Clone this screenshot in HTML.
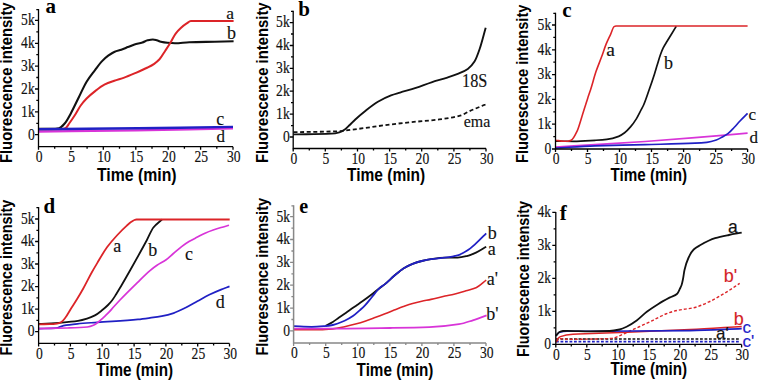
<!DOCTYPE html>
<html><head><meta charset="utf-8"><style>
html,body{margin:0;padding:0;background:#fff;width:758px;height:380px;overflow:hidden}
svg{display:block}
</style></head><body>
<svg width="758" height="380" viewBox="0 0 758 380">
<rect width="758" height="380" fill="#fff"/>
<path d="M38.50 128.80C43.00 128.80 47.50 128.80 52.00 128.80C54.33 128.80 56.67 128.57 59.00 128.20C60.97 127.89 62.93 125.41 64.90 123.20C66.87 120.99 68.83 116.96 70.80 113.40C73.43 108.63 76.07 102.78 78.70 97.50C81.33 92.22 83.97 86.01 86.60 81.70C89.40 77.12 92.20 73.83 95.00 70.10C97.20 67.17 99.40 63.92 101.60 61.60C103.80 59.28 106.00 57.30 108.20 55.70C110.37 54.12 112.53 52.58 114.70 51.70C116.90 50.81 119.10 50.45 121.30 49.70C123.50 48.95 125.70 47.97 127.90 47.10C130.10 46.23 132.30 45.18 134.50 44.50C137.13 43.68 139.77 43.35 142.40 42.50C144.13 41.94 145.87 40.69 147.60 40.30C149.37 39.91 151.13 39.50 152.90 39.50C154.20 39.50 155.50 39.96 156.80 40.30C158.13 40.65 159.47 41.50 160.80 41.80C163.00 42.29 165.20 42.63 167.40 42.80C169.93 43.00 172.47 43.20 175.00 43.20C179.77 43.20 184.53 42.35 189.30 42.20C197.83 41.92 206.37 41.87 214.90 41.70C221.13 41.57 227.37 41.43 233.60 41.30" fill="none" stroke="#111" stroke-width="2.1" stroke-linejoin="round"/>
<path d="M38.50 129.50C46.00 129.43 53.50 129.46 61.00 129.30C62.50 129.27 64.00 128.83 65.50 128.20C66.83 127.64 68.17 124.82 69.50 123.00C71.27 120.58 73.03 118.04 74.80 115.30C76.77 112.26 78.73 108.22 80.70 105.50C82.67 102.78 84.63 100.49 86.60 98.50C89.23 95.83 91.87 93.65 94.50 91.60C97.80 89.03 101.10 86.36 104.40 84.70C107.70 83.04 111.00 81.97 114.30 80.80C117.60 79.63 120.90 78.79 124.20 77.60C127.63 76.36 131.07 74.87 134.50 73.40C138.87 71.53 143.23 69.71 147.60 67.50C149.80 66.39 152.00 65.30 154.20 63.80C155.97 62.60 157.73 61.20 159.50 59.30C161.47 57.18 163.43 53.51 165.40 50.50C167.17 47.80 168.93 45.12 170.70 42.20C172.30 39.55 173.90 35.96 175.50 33.80C177.27 31.41 179.03 29.61 180.80 28.00C182.77 26.20 184.73 24.65 186.70 23.40C188.10 22.51 189.50 21.10 190.90 21.10C205.13 21.10 219.37 21.10 233.60 21.10" fill="none" stroke="#dc2428" stroke-width="2.0" stroke-linejoin="round"/>
<path d="M38.50 131.60C71.00 131.20 103.50 130.89 136.00 130.40C168.33 129.91 200.67 129.13 233.00 128.50" fill="none" stroke="#d834d8" stroke-width="2.2" stroke-linejoin="round"/>
<path d="M38.50 129.20C71.67 128.90 104.83 128.67 138.00 128.30C169.67 127.94 201.33 127.37 233.00 126.90" fill="none" stroke="#2020c4" stroke-width="2.4" stroke-linejoin="round"/>
<text x="226.3" y="19.0" font-family='"Liberation Serif", serif' font-size="17.5" fill="#111" stroke="#111" stroke-width="0.15">a</text>
<text x="227.1" y="38.5" font-family='"Liberation Serif", serif' font-size="18" fill="#111" stroke="#111" stroke-width="0.15">b</text>
<text x="216.2" y="124.7" font-family='"Liberation Serif", serif' font-size="18" fill="#111" stroke="#111" stroke-width="0.15">c</text>
<text x="216.4" y="141.6" font-family='"Liberation Serif", serif' font-size="17" fill="#111" stroke="#111" stroke-width="0.15">d</text>
<path d="M293.50 132.20C308.77 131.87 324.03 131.85 339.30 131.20C343.27 131.03 347.23 130.29 351.20 129.80C364.80 128.11 378.40 125.95 392.00 124.30C397.90 123.58 403.80 122.92 409.70 122.30C419.57 121.26 429.43 120.68 439.30 119.40C446.53 118.46 453.77 117.49 461.00 115.40C463.63 114.64 466.27 112.71 468.90 111.50C473.50 109.38 478.10 107.47 482.70 105.60C483.63 105.22 484.57 104.87 485.50 104.50" fill="none" stroke="#111" stroke-width="1.8" stroke-linejoin="round" stroke-dasharray="4 2.6"/>
<path d="M293.50 134.40C306.13 134.13 318.77 134.17 331.40 133.60C334.03 133.48 336.67 132.98 339.30 132.30C341.13 131.83 342.97 130.71 344.80 129.50C346.53 128.36 348.27 126.35 350.00 124.70C351.77 123.02 353.53 121.12 355.30 119.50C358.83 116.26 362.37 113.27 365.90 110.50C369.90 107.37 373.90 104.14 377.90 101.80C382.27 99.24 386.63 97.04 391.00 95.40C394.00 94.28 397.00 93.51 400.00 92.60C405.27 90.99 410.53 89.61 415.80 87.90C421.03 86.20 426.27 84.00 431.50 82.30C436.77 80.59 442.03 79.31 447.30 77.60C451.00 76.40 454.70 75.25 458.40 73.70C461.53 72.39 464.67 71.13 467.80 68.90C470.03 67.31 472.27 64.95 474.50 61.50C476.27 58.77 478.03 53.59 479.80 48.50C481.77 42.83 483.73 34.63 485.70 27.70" fill="none" stroke="#111" stroke-width="1.9" stroke-linejoin="round"/>
<text x="462.0" y="86.9" font-family='"Liberation Serif", serif' font-size="18" fill="#111" stroke="#111" stroke-width="0.15" textLength="25.3" lengthAdjust="spacingAndGlyphs">18S</text>
<text x="463.8" y="127.4" font-family='"Liberation Serif", serif' font-size="17.5" fill="#111" stroke="#111" stroke-width="0.15" textLength="26.5" lengthAdjust="spacingAndGlyphs">ema</text>
<path d="M555.50 147.00C568.67 146.23 581.83 145.50 595.00 144.70C611.67 143.69 628.33 142.67 645.00 141.50C661.67 140.33 678.33 138.95 695.00 137.60C712.53 136.19 730.07 134.67 747.60 133.20" fill="none" stroke="#d834d8" stroke-width="1.7" stroke-linejoin="round"/>
<path d="M555.50 148.00C568.67 147.30 581.83 146.37 595.00 145.90C611.67 145.31 628.33 145.05 645.00 144.60C661.67 144.15 678.33 143.95 695.00 143.20C698.93 143.02 702.87 142.76 706.80 142.30C709.97 141.93 713.13 141.06 716.30 140.00C718.30 139.33 720.30 138.10 722.30 137.00C724.27 135.92 726.23 134.89 728.20 133.40C730.17 131.91 732.13 129.56 734.10 127.50C736.07 125.44 738.03 123.07 740.00 121.00C742.53 118.34 745.07 115.93 747.60 113.40" fill="none" stroke="#2020c4" stroke-width="1.7" stroke-linejoin="round"/>
<path d="M555.50 141.20C561.57 141.23 567.63 141.30 573.70 141.30C580.80 141.30 587.90 140.72 595.00 140.30C598.93 140.07 602.87 139.86 606.80 139.40C610.77 138.94 614.73 137.88 618.70 136.40C620.67 135.66 622.63 134.29 624.60 132.80C626.57 131.31 628.53 129.18 630.50 126.90C632.50 124.58 634.50 121.82 636.50 118.60C638.07 116.08 639.63 112.72 641.20 109.70C642.00 108.16 642.80 106.79 643.60 105.00C645.37 101.05 647.13 95.53 648.90 90.50C650.77 85.19 652.63 79.76 654.50 73.90C655.40 71.07 656.30 67.92 657.20 65.00C658.30 61.44 659.40 57.53 660.50 54.50C661.40 52.02 662.30 49.72 663.20 47.90C664.50 45.27 665.80 43.47 667.10 41.30C668.43 39.07 669.77 36.89 671.10 34.70C672.83 31.85 674.57 29.03 676.30 26.20" fill="none" stroke="#111" stroke-width="1.7" stroke-linejoin="round"/>
<path d="M555.50 140.20C558.30 140.57 561.10 141.30 563.90 141.30C565.27 141.30 566.63 141.26 568.00 141.20C569.07 141.15 570.13 140.78 571.20 140.30C573.17 139.42 575.13 135.19 577.10 131.10C578.67 127.84 580.23 121.74 581.80 116.90C583.80 110.72 585.80 103.95 587.80 97.90C588.70 95.18 589.60 92.79 590.50 90.00C592.33 84.32 594.17 77.02 596.00 71.60C597.87 66.09 599.73 61.88 601.60 56.80C603.13 52.62 604.67 47.68 606.20 43.90C607.73 40.12 609.27 37.16 610.80 33.80C611.90 31.39 613.00 27.17 614.10 26.60C614.73 26.27 615.37 26.00 616.00 26.00C659.87 26.00 703.73 26.00 747.60 26.00" fill="none" stroke="#dc2428" stroke-width="1.6" stroke-linejoin="round"/>
<text x="606.3" y="55.8" font-family='"Liberation Serif", serif' font-size="19.5" fill="#111" stroke="#111" stroke-width="0.15">a</text>
<text x="663.9" y="69.4" font-family='"Liberation Serif", serif' font-size="18" fill="#111" stroke="#111" stroke-width="0.15">b</text>
<text x="748.5" y="120.4" font-family='"Liberation Serif", serif' font-size="17" fill="#111" stroke="#111" stroke-width="0.15">c</text>
<text x="749.5" y="143.2" font-family='"Liberation Serif", serif' font-size="17" fill="#111" stroke="#111" stroke-width="0.15">d</text>
<path d="M38.50 328.60C44.27 328.47 50.03 328.48 55.80 328.20C58.40 328.07 61.00 326.11 63.60 325.60C68.20 324.70 72.80 324.25 77.40 323.80C84.00 323.16 90.60 322.79 97.20 322.30C110.80 321.30 124.40 320.70 138.00 319.40C142.00 319.02 146.00 318.45 150.00 317.90C153.93 317.36 157.87 316.85 161.80 316.10C165.77 315.35 169.73 314.38 173.70 313.10C177.63 311.83 181.57 309.75 185.50 307.80C189.43 305.85 193.37 303.46 197.30 301.30C201.27 299.12 205.23 296.73 209.20 294.80C213.13 292.88 217.07 291.19 221.00 289.60C223.83 288.45 226.67 287.47 229.50 286.40" fill="none" stroke="#2020c4" stroke-width="1.7" stroke-linejoin="round"/>
<path d="M38.50 328.60C48.20 328.40 57.90 328.29 67.60 328.00C74.17 327.80 80.73 327.64 87.30 327.00C89.53 326.78 91.77 325.95 94.00 325.00C95.67 324.29 97.33 322.82 99.00 321.50C100.37 320.42 101.73 319.06 103.10 317.80C104.73 316.30 106.37 314.86 108.00 313.20C110.00 311.17 112.00 308.70 114.00 306.50C116.00 304.30 118.00 302.09 120.00 300.00C125.80 293.93 131.60 288.25 137.40 282.60C141.60 278.51 145.80 274.11 150.00 270.60C152.33 268.65 154.67 266.87 157.00 265.30C159.93 263.32 162.87 262.08 165.80 260.00C168.33 258.20 170.87 255.65 173.40 253.50C176.13 251.18 178.87 248.67 181.60 246.60C184.07 244.73 186.53 242.97 189.00 241.50C191.80 239.83 194.60 238.55 197.40 237.10C199.93 235.79 202.47 234.33 205.00 233.20C207.73 231.99 210.47 230.96 213.20 230.00C215.80 229.09 218.40 228.27 221.00 227.50C223.67 226.71 226.33 226.03 229.00 225.30" fill="none" stroke="#d834d8" stroke-width="1.7" stroke-linejoin="round"/>
<path d="M38.50 324.00C46.23 323.53 53.97 323.20 61.70 322.60C67.13 322.18 72.57 321.73 78.00 320.90C81.00 320.44 84.00 319.63 87.00 318.70C89.63 317.88 92.27 316.80 94.90 315.40C97.27 314.14 99.63 312.18 102.00 310.30C104.00 308.71 106.00 307.00 108.00 305.00C109.33 303.67 110.67 302.21 112.00 300.50C113.33 298.79 114.67 296.60 116.00 294.50C117.67 291.88 119.33 289.03 121.00 286.20C124.10 280.94 127.20 275.49 130.30 270.00C135.83 260.20 141.37 250.36 146.90 240.00C149.07 235.94 151.23 230.26 153.40 227.50C156.27 223.85 159.13 222.17 162.00 219.50" fill="none" stroke="#111" stroke-width="1.8" stroke-linejoin="round"/>
<path d="M38.50 324.30C42.27 324.27 46.03 324.26 49.80 324.20C52.20 324.16 54.60 323.94 57.00 323.60C58.33 323.41 59.67 322.96 61.00 322.30C62.43 321.59 63.87 319.60 65.30 317.80C67.27 315.33 69.23 311.43 71.20 308.30C73.17 305.17 75.13 302.23 77.10 299.00C79.20 295.55 81.30 291.96 83.40 288.20C86.27 283.07 89.13 277.12 92.00 272.00C93.73 268.90 95.47 265.99 97.20 263.10C100.47 257.66 103.73 251.78 107.00 247.30C110.30 242.78 113.60 239.09 116.90 235.50C120.20 231.91 123.50 228.53 126.80 225.60C128.43 224.15 130.07 222.68 131.70 221.60C132.63 220.98 133.57 220.32 134.50 220.00C135.17 219.77 135.83 219.50 136.50 219.50C167.57 219.50 198.63 219.50 229.70 219.50" fill="none" stroke="#dc2428" stroke-width="1.8" stroke-linejoin="round"/>
<text x="113.3" y="252.3" font-family='"Liberation Serif", serif' font-size="18" fill="#111" stroke="#111" stroke-width="0.15">a</text>
<text x="148.2" y="256.2" font-family='"Liberation Serif", serif' font-size="18" fill="#111" stroke="#111" stroke-width="0.15">b</text>
<text x="185.0" y="259.6" font-family='"Liberation Serif", serif' font-size="18" fill="#111" stroke="#111" stroke-width="0.15">c</text>
<text x="215.7" y="308.4" font-family='"Liberation Serif", serif' font-size="18" fill="#111" stroke="#111" stroke-width="0.15">d</text>
<path d="M294.00 329.60C302.67 329.60 311.33 329.60 320.00 329.60C324.27 329.60 328.53 329.26 332.80 328.90C336.73 328.56 340.67 327.53 344.60 326.70C348.57 325.86 352.53 324.88 356.50 323.80C359.33 323.03 362.17 322.14 365.00 321.20C368.33 320.10 371.67 318.83 375.00 317.60C378.33 316.37 381.67 315.10 385.00 313.80C388.07 312.60 391.13 311.32 394.20 310.10C397.27 308.88 400.33 307.61 403.40 306.50C406.47 305.39 409.53 304.26 412.60 303.40C415.67 302.54 418.73 301.86 421.80 301.20C424.87 300.54 427.93 300.06 431.00 299.40C435.67 298.40 440.33 297.02 445.00 296.00C448.00 295.35 451.00 294.90 454.00 294.20C458.00 293.27 462.00 291.97 466.00 290.80C469.33 289.83 472.67 289.22 476.00 287.80C479.40 286.35 482.80 282.73 486.20 280.20" fill="none" stroke="#dc2428" stroke-width="1.6" stroke-linejoin="round"/>
<path d="M294.00 328.60C306.47 328.60 318.93 328.60 331.40 328.60C350.93 328.60 370.47 328.27 390.00 328.00C403.13 327.82 416.27 327.66 429.40 327.20C439.27 326.86 449.13 325.76 459.00 324.20C463.60 323.47 468.20 321.75 472.80 320.30C477.40 318.85 482.00 317.03 486.60 315.40" fill="none" stroke="#d834d8" stroke-width="1.8" stroke-linejoin="round"/>
<path d="M325.70 325.80C328.07 324.53 330.43 323.45 332.80 322.00C334.77 320.79 336.73 319.18 338.70 317.80C340.67 316.42 342.63 315.08 344.60 313.70C346.57 312.32 348.53 310.87 350.50 309.50C352.50 308.11 354.50 306.78 356.50 305.40C358.47 304.04 360.43 302.71 362.40 301.30C365.47 299.11 368.53 296.85 371.60 294.50C374.23 292.48 376.87 290.23 379.50 288.20C381.33 286.79 383.17 285.58 385.00 284.10C388.07 281.62 391.13 278.41 394.20 275.80C397.27 273.19 400.33 270.29 403.40 268.40C406.47 266.51 409.53 264.96 412.60 263.80C415.67 262.64 418.73 261.73 421.80 261.00C424.87 260.27 427.93 259.63 431.00 259.20C435.67 258.54 440.33 257.77 445.00 257.70C449.20 257.64 453.40 257.67 457.60 257.60C460.67 257.55 463.73 256.80 466.80 256.10C469.87 255.40 472.93 254.00 476.00 252.60C479.40 251.04 482.80 248.67 486.20 246.70" fill="none" stroke="#111" stroke-width="1.8" stroke-linejoin="round"/>
<path d="M294.00 326.20C299.90 326.40 305.80 326.80 311.70 326.80C315.97 326.80 320.23 326.44 324.50 326.10C327.27 325.88 330.03 325.52 332.80 325.00C336.73 324.26 340.67 322.54 344.60 320.80C347.37 319.57 350.13 317.99 352.90 316.10C355.27 314.49 357.63 312.21 360.00 310.10C361.67 308.61 363.33 307.15 365.00 305.40C367.20 303.10 369.40 300.11 371.60 297.50C374.23 294.37 376.87 290.57 379.50 288.20C381.33 286.55 383.17 285.58 385.00 284.10C388.07 281.62 391.13 278.41 394.20 275.80C397.27 273.19 400.33 270.29 403.40 268.40C406.47 266.51 409.53 264.96 412.60 263.80C415.67 262.64 418.73 261.73 421.80 261.00C424.87 260.27 427.93 259.63 431.00 259.20C435.67 258.54 440.33 258.33 445.00 257.70C449.20 257.13 453.40 256.55 457.60 255.40C460.67 254.56 463.73 252.69 466.80 250.80C469.87 248.91 472.93 246.12 476.00 243.40C479.40 240.39 482.80 236.67 486.20 233.30" fill="none" stroke="#2020c4" stroke-width="1.8" stroke-linejoin="round"/>
<text x="487.8" y="239.2" font-family='"Liberation Serif", serif' font-size="18" fill="#111" stroke="#111" stroke-width="0.15">b</text>
<text x="487.7" y="255.0" font-family='"Liberation Serif", serif' font-size="18" fill="#111" stroke="#111" stroke-width="0.15">a</text>
<text x="486.8" y="284.7" font-family='"Liberation Serif", serif' font-size="18" fill="#111" stroke="#111" stroke-width="0.15">a&#39;</text>
<text x="486.3" y="320.3" font-family='"Liberation Serif", serif' font-size="18" fill="#111" stroke="#111" stroke-width="0.15">b&#39;</text>
<path d="M556.0 339.0L740.0 339.0" fill="none" stroke="#111" stroke-width="1.5" stroke-linejoin="round" stroke-dasharray="2.8 1.7"/>
<path d="M556.0 341.6L740.0 341.6" fill="none" stroke="#2020c4" stroke-width="1.6" stroke-linejoin="round" stroke-dasharray="2.8 1.7"/>
<path d="M556.00 342.00C557.47 340.87 558.93 338.60 560.40 338.60C563.20 338.60 566.00 339.30 568.80 339.30C575.87 339.30 582.93 339.20 590.00 339.10C597.23 338.99 604.47 338.88 611.70 338.40C615.00 338.18 618.30 336.13 621.60 334.80C625.67 333.16 629.73 331.07 633.80 329.20C639.60 326.54 645.40 323.97 651.20 321.20C656.03 318.89 660.87 315.84 665.70 314.00C669.53 312.54 673.37 311.23 677.20 310.40C682.60 309.23 688.00 309.02 693.40 307.80C698.67 306.61 703.93 304.18 709.20 301.80C714.47 299.42 719.73 296.17 725.00 293.00C729.90 290.05 734.80 286.60 739.70 283.40" fill="none" stroke="#dc2428" stroke-width="1.4" stroke-linejoin="round" stroke-dasharray="3 2"/>
<path d="M556.00 340.60C557.47 339.27 558.93 337.12 560.40 336.60C564.60 335.12 568.80 334.47 573.00 334.20C579.33 333.79 585.67 333.74 592.00 333.50C624.67 332.26 657.33 331.20 690.00 329.60C707.23 328.76 724.47 327.53 741.70 326.50" fill="none" stroke="#dc2428" stroke-width="1.5" stroke-linejoin="round"/>
<path d="M556.00 335.50C557.20 334.40 558.40 332.51 559.60 332.20C562.07 331.56 564.53 331.20 567.00 331.20C578.00 331.20 589.00 331.30 600.00 331.30C630.00 331.30 660.00 331.01 690.00 330.60C707.23 330.36 724.47 329.27 741.70 328.60" fill="none" stroke="#2020c4" stroke-width="1.6" stroke-linejoin="round"/>
<path d="M556.00 336.00C557.00 334.73 558.00 332.70 559.00 332.20C560.33 331.53 561.67 331.11 563.00 331.00C564.40 330.88 565.80 330.80 567.20 330.80C574.80 330.80 582.40 331.30 590.00 331.30C596.57 331.30 603.13 331.20 609.70 331.00C613.00 330.90 616.30 330.24 619.60 329.50C621.93 328.98 624.27 327.90 626.60 326.80C629.97 325.22 633.33 322.94 636.70 320.50C640.07 318.06 643.43 314.37 646.80 311.80C650.67 308.85 654.53 306.28 658.40 303.90C662.27 301.52 666.13 299.47 670.00 297.40C672.40 296.12 674.80 295.81 677.20 293.70C678.13 292.88 679.07 290.39 680.00 288.50C680.53 287.42 681.07 286.56 681.60 285.00C682.07 283.64 682.53 281.33 683.00 279.00C683.50 276.50 684.00 272.14 684.50 270.00C685.80 264.45 687.10 260.79 688.40 258.00C690.17 254.21 691.93 251.18 693.70 249.50C695.80 247.50 697.90 246.49 700.00 245.30C705.03 242.46 710.07 239.76 715.10 238.20C719.70 236.78 724.30 235.93 728.90 235.00C733.17 234.14 737.43 233.47 741.70 232.70" fill="none" stroke="#111" stroke-width="1.8" stroke-linejoin="round"/>
<text x="728.1" y="232.9" font-family='"Liberation Sans", sans-serif' font-size="17.5" fill="#111" stroke="#111" stroke-width="0.15">a</text>
<text x="723.8" y="282.4" font-family='"Liberation Sans", sans-serif' font-size="18" fill="#d42428" stroke="#d42428" stroke-width="0.15">b&#39;</text>
<text x="733.7" y="325.0" font-family='"Liberation Sans", sans-serif' font-size="18" fill="#d42428" stroke="#d42428" stroke-width="0.15">b</text>
<text x="742.5" y="333.2" font-family='"Liberation Sans", sans-serif' font-size="17" fill="#2020c8" stroke="#2020c8" stroke-width="0.15">c</text>
<text x="716.0" y="339.0" font-family='"Liberation Sans", sans-serif' font-size="17" fill="#111" stroke="#111" stroke-width="0.15">a&#39;</text>
<text x="742.5" y="346.6" font-family='"Liberation Sans", sans-serif' font-size="17" fill="#2020c8" stroke="#2020c8" stroke-width="0.15">c&#39;</text>
<path d="M38.5 9.0V146.7H233.0" fill="none" stroke="#000" stroke-width="1.3"/>
<path d="M35.0 134.7H38.5M36.3 123.3H38.5M35.0 111.8H38.5M36.3 100.4H38.5M35.0 89.0H38.5M36.3 77.5H38.5M35.0 66.1H38.5M36.3 54.7H38.5M35.0 43.3H38.5M36.3 31.8H38.5M35.0 20.4H38.5M36.3 9.6H38.5M38.5 146.7V149.7M54.7 146.7V148.7M70.9 146.7V149.7M87.1 146.7V148.7M103.3 146.7V149.7M119.5 146.7V148.7M135.8 146.7V149.7M152.0 146.7V148.7M168.2 146.7V149.7M184.4 146.7V148.7M200.6 146.7V149.7M216.8 146.7V148.7M233.0 146.7V149.7" fill="none" stroke="#000" stroke-width="1.3"/>
<text x="34.7" y="139.5" text-anchor="end" font-family='"Liberation Serif", serif' font-size="16" fill="#111" stroke="#111" stroke-width="0.15" textLength="6.8" lengthAdjust="spacingAndGlyphs">0</text>
<text x="34.7" y="116.6" text-anchor="end" font-family='"Liberation Serif", serif' font-size="16" fill="#111" stroke="#111" stroke-width="0.15" textLength="13.6" lengthAdjust="spacingAndGlyphs">1k</text>
<text x="34.7" y="93.8" text-anchor="end" font-family='"Liberation Serif", serif' font-size="16" fill="#111" stroke="#111" stroke-width="0.15" textLength="13.6" lengthAdjust="spacingAndGlyphs">2k</text>
<text x="34.7" y="70.9" text-anchor="end" font-family='"Liberation Serif", serif' font-size="16" fill="#111" stroke="#111" stroke-width="0.15" textLength="13.6" lengthAdjust="spacingAndGlyphs">3k</text>
<text x="34.7" y="48.1" text-anchor="end" font-family='"Liberation Serif", serif' font-size="16" fill="#111" stroke="#111" stroke-width="0.15" textLength="13.6" lengthAdjust="spacingAndGlyphs">4k</text>
<text x="34.7" y="25.2" text-anchor="end" font-family='"Liberation Serif", serif' font-size="16" fill="#111" stroke="#111" stroke-width="0.15" textLength="13.6" lengthAdjust="spacingAndGlyphs">5k</text>
<text x="39.2" y="162.0" text-anchor="middle" font-family='"Liberation Serif", serif' font-size="16" fill="#111" stroke="#111" stroke-width="0.15" textLength="6.8" lengthAdjust="spacingAndGlyphs">0</text>
<text x="71.6" y="162.0" text-anchor="middle" font-family='"Liberation Serif", serif' font-size="16" fill="#111" stroke="#111" stroke-width="0.15" textLength="6.8" lengthAdjust="spacingAndGlyphs">5</text>
<text x="104.0" y="162.0" text-anchor="middle" font-family='"Liberation Serif", serif' font-size="16" fill="#111" stroke="#111" stroke-width="0.15" textLength="13.6" lengthAdjust="spacingAndGlyphs">10</text>
<text x="136.4" y="162.0" text-anchor="middle" font-family='"Liberation Serif", serif' font-size="16" fill="#111" stroke="#111" stroke-width="0.15" textLength="13.6" lengthAdjust="spacingAndGlyphs">15</text>
<text x="168.9" y="162.0" text-anchor="middle" font-family='"Liberation Serif", serif' font-size="16" fill="#111" stroke="#111" stroke-width="0.15" textLength="13.6" lengthAdjust="spacingAndGlyphs">20</text>
<text x="201.3" y="162.0" text-anchor="middle" font-family='"Liberation Serif", serif' font-size="16" fill="#111" stroke="#111" stroke-width="0.15" textLength="13.6" lengthAdjust="spacingAndGlyphs">25</text>
<text x="233.7" y="162.0" text-anchor="middle" font-family='"Liberation Serif", serif' font-size="16" fill="#111" stroke="#111" stroke-width="0.15" textLength="13.6" lengthAdjust="spacingAndGlyphs">30</text>
<path d="M293.2 10.8V148.5H486.0" fill="none" stroke="#000" stroke-width="1.3"/>
<path d="M289.7 137.0H293.2M291.0 125.6H293.2M289.7 114.1H293.2M291.0 102.7H293.2M289.7 91.2H293.2M291.0 79.8H293.2M289.7 68.4H293.2M291.0 56.9H293.2M289.7 45.5H293.2M291.0 34.0H293.2M289.7 22.6H293.2M291.0 11.4H293.2M293.2 148.5V151.5M309.3 148.5V150.5M325.3 148.5V151.5M341.4 148.5V150.5M357.5 148.5V151.5M373.5 148.5V150.5M389.6 148.5V151.5M405.7 148.5V150.5M421.7 148.5V151.5M437.8 148.5V150.5M453.9 148.5V151.5M469.9 148.5V150.5M486.0 148.5V151.5" fill="none" stroke="#000" stroke-width="1.3"/>
<text x="289.7" y="141.8" text-anchor="end" font-family='"Liberation Serif", serif' font-size="16" fill="#111" stroke="#111" stroke-width="0.15" textLength="6.8" lengthAdjust="spacingAndGlyphs">0</text>
<text x="289.7" y="118.9" text-anchor="end" font-family='"Liberation Serif", serif' font-size="16" fill="#111" stroke="#111" stroke-width="0.15" textLength="13.6" lengthAdjust="spacingAndGlyphs">1k</text>
<text x="289.7" y="96.0" text-anchor="end" font-family='"Liberation Serif", serif' font-size="16" fill="#111" stroke="#111" stroke-width="0.15" textLength="13.6" lengthAdjust="spacingAndGlyphs">2k</text>
<text x="289.7" y="73.2" text-anchor="end" font-family='"Liberation Serif", serif' font-size="16" fill="#111" stroke="#111" stroke-width="0.15" textLength="13.6" lengthAdjust="spacingAndGlyphs">3k</text>
<text x="289.7" y="50.3" text-anchor="end" font-family='"Liberation Serif", serif' font-size="16" fill="#111" stroke="#111" stroke-width="0.15" textLength="13.6" lengthAdjust="spacingAndGlyphs">4k</text>
<text x="289.7" y="27.4" text-anchor="end" font-family='"Liberation Serif", serif' font-size="16" fill="#111" stroke="#111" stroke-width="0.15" textLength="13.6" lengthAdjust="spacingAndGlyphs">5k</text>
<text x="293.9" y="163.8" text-anchor="middle" font-family='"Liberation Serif", serif' font-size="16" fill="#111" stroke="#111" stroke-width="0.15" textLength="6.8" lengthAdjust="spacingAndGlyphs">0</text>
<text x="326.0" y="163.8" text-anchor="middle" font-family='"Liberation Serif", serif' font-size="16" fill="#111" stroke="#111" stroke-width="0.15" textLength="6.8" lengthAdjust="spacingAndGlyphs">5</text>
<text x="358.2" y="163.8" text-anchor="middle" font-family='"Liberation Serif", serif' font-size="16" fill="#111" stroke="#111" stroke-width="0.15" textLength="13.6" lengthAdjust="spacingAndGlyphs">10</text>
<text x="390.3" y="163.8" text-anchor="middle" font-family='"Liberation Serif", serif' font-size="16" fill="#111" stroke="#111" stroke-width="0.15" textLength="13.6" lengthAdjust="spacingAndGlyphs">15</text>
<text x="422.4" y="163.8" text-anchor="middle" font-family='"Liberation Serif", serif' font-size="16" fill="#111" stroke="#111" stroke-width="0.15" textLength="13.6" lengthAdjust="spacingAndGlyphs">20</text>
<text x="454.6" y="163.8" text-anchor="middle" font-family='"Liberation Serif", serif' font-size="16" fill="#111" stroke="#111" stroke-width="0.15" textLength="13.6" lengthAdjust="spacingAndGlyphs">25</text>
<text x="486.7" y="163.8" text-anchor="middle" font-family='"Liberation Serif", serif' font-size="16" fill="#111" stroke="#111" stroke-width="0.15" textLength="13.6" lengthAdjust="spacingAndGlyphs">30</text>
<path d="M555.5 12.8V149.0H747.6" fill="none" stroke="#000" stroke-width="1.3"/>
<path d="M552.0 149.0H555.5M553.3 136.6H555.5M552.0 124.2H555.5M553.3 111.8H555.5M552.0 99.4H555.5M553.3 87.0H555.5M552.0 74.6H555.5M553.3 62.2H555.5M552.0 49.8H555.5M553.3 37.4H555.5M552.0 25.0H555.5M553.3 13.4H555.5M555.5 149.0V152.0M571.5 149.0V151.0M587.5 149.0V152.0M603.5 149.0V151.0M619.5 149.0V152.0M635.5 149.0V151.0M651.5 149.0V152.0M667.6 149.0V151.0M683.6 149.0V152.0M699.6 149.0V151.0M715.6 149.0V152.0M731.6 149.0V151.0M747.6 149.0V152.0" fill="none" stroke="#000" stroke-width="1.3"/>
<text x="551.2" y="153.8" text-anchor="end" font-family='"Liberation Serif", serif' font-size="16" fill="#111" stroke="#111" stroke-width="0.15" textLength="6.8" lengthAdjust="spacingAndGlyphs">0</text>
<text x="551.2" y="129.0" text-anchor="end" font-family='"Liberation Serif", serif' font-size="16" fill="#111" stroke="#111" stroke-width="0.15" textLength="13.6" lengthAdjust="spacingAndGlyphs">1k</text>
<text x="551.2" y="104.2" text-anchor="end" font-family='"Liberation Serif", serif' font-size="16" fill="#111" stroke="#111" stroke-width="0.15" textLength="13.6" lengthAdjust="spacingAndGlyphs">2k</text>
<text x="551.2" y="79.4" text-anchor="end" font-family='"Liberation Serif", serif' font-size="16" fill="#111" stroke="#111" stroke-width="0.15" textLength="13.6" lengthAdjust="spacingAndGlyphs">3k</text>
<text x="551.2" y="54.6" text-anchor="end" font-family='"Liberation Serif", serif' font-size="16" fill="#111" stroke="#111" stroke-width="0.15" textLength="13.6" lengthAdjust="spacingAndGlyphs">4k</text>
<text x="551.2" y="29.8" text-anchor="end" font-family='"Liberation Serif", serif' font-size="16" fill="#111" stroke="#111" stroke-width="0.15" textLength="13.6" lengthAdjust="spacingAndGlyphs">5k</text>
<text x="556.2" y="164.3" text-anchor="middle" font-family='"Liberation Serif", serif' font-size="16" fill="#111" stroke="#111" stroke-width="0.15" textLength="6.8" lengthAdjust="spacingAndGlyphs">0</text>
<text x="588.2" y="164.3" text-anchor="middle" font-family='"Liberation Serif", serif' font-size="16" fill="#111" stroke="#111" stroke-width="0.15" textLength="6.8" lengthAdjust="spacingAndGlyphs">5</text>
<text x="620.2" y="164.3" text-anchor="middle" font-family='"Liberation Serif", serif' font-size="16" fill="#111" stroke="#111" stroke-width="0.15" textLength="13.6" lengthAdjust="spacingAndGlyphs">10</text>
<text x="652.2" y="164.3" text-anchor="middle" font-family='"Liberation Serif", serif' font-size="16" fill="#111" stroke="#111" stroke-width="0.15" textLength="13.6" lengthAdjust="spacingAndGlyphs">15</text>
<text x="684.3" y="164.3" text-anchor="middle" font-family='"Liberation Serif", serif' font-size="16" fill="#111" stroke="#111" stroke-width="0.15" textLength="13.6" lengthAdjust="spacingAndGlyphs">20</text>
<text x="716.3" y="164.3" text-anchor="middle" font-family='"Liberation Serif", serif' font-size="16" fill="#111" stroke="#111" stroke-width="0.15" textLength="13.6" lengthAdjust="spacingAndGlyphs">25</text>
<text x="748.3" y="164.3" text-anchor="middle" font-family='"Liberation Serif", serif' font-size="16" fill="#111" stroke="#111" stroke-width="0.15" textLength="13.6" lengthAdjust="spacingAndGlyphs">30</text>
<path d="M38.6 207.1V343.4H229.5" fill="none" stroke="#000" stroke-width="1.3"/>
<path d="M35.1 331.6H38.6M36.4 320.3H38.6M35.1 309.1H38.6M36.4 297.8H38.6M35.1 286.6H38.6M36.4 275.3H38.6M35.1 264.0H38.6M36.4 252.8H38.6M35.1 241.5H38.6M36.4 230.3H38.6M35.1 219.0H38.6M36.4 207.7H38.6M38.6 343.4V346.4M54.5 343.4V345.4M70.4 343.4V346.4M86.3 343.4V345.4M102.2 343.4V346.4M118.1 343.4V345.4M134.1 343.4V346.4M150.0 343.4V345.4M165.9 343.4V346.4M181.8 343.4V345.4M197.7 343.4V346.4M213.6 343.4V345.4M229.5 343.4V346.4" fill="none" stroke="#000" stroke-width="1.3"/>
<text x="34.5" y="336.4" text-anchor="end" font-family='"Liberation Serif", serif' font-size="16" fill="#111" stroke="#111" stroke-width="0.15" textLength="6.8" lengthAdjust="spacingAndGlyphs">0</text>
<text x="34.5" y="313.9" text-anchor="end" font-family='"Liberation Serif", serif' font-size="16" fill="#111" stroke="#111" stroke-width="0.15" textLength="13.6" lengthAdjust="spacingAndGlyphs">1k</text>
<text x="34.5" y="291.4" text-anchor="end" font-family='"Liberation Serif", serif' font-size="16" fill="#111" stroke="#111" stroke-width="0.15" textLength="13.6" lengthAdjust="spacingAndGlyphs">2k</text>
<text x="34.5" y="268.8" text-anchor="end" font-family='"Liberation Serif", serif' font-size="16" fill="#111" stroke="#111" stroke-width="0.15" textLength="13.6" lengthAdjust="spacingAndGlyphs">3k</text>
<text x="34.5" y="246.3" text-anchor="end" font-family='"Liberation Serif", serif' font-size="16" fill="#111" stroke="#111" stroke-width="0.15" textLength="13.6" lengthAdjust="spacingAndGlyphs">4k</text>
<text x="34.5" y="223.8" text-anchor="end" font-family='"Liberation Serif", serif' font-size="16" fill="#111" stroke="#111" stroke-width="0.15" textLength="13.6" lengthAdjust="spacingAndGlyphs">5k</text>
<text x="39.3" y="358.7" text-anchor="middle" font-family='"Liberation Serif", serif' font-size="16" fill="#111" stroke="#111" stroke-width="0.15" textLength="6.8" lengthAdjust="spacingAndGlyphs">0</text>
<text x="71.1" y="358.7" text-anchor="middle" font-family='"Liberation Serif", serif' font-size="16" fill="#111" stroke="#111" stroke-width="0.15" textLength="6.8" lengthAdjust="spacingAndGlyphs">5</text>
<text x="102.9" y="358.7" text-anchor="middle" font-family='"Liberation Serif", serif' font-size="16" fill="#111" stroke="#111" stroke-width="0.15" textLength="13.6" lengthAdjust="spacingAndGlyphs">10</text>
<text x="134.8" y="358.7" text-anchor="middle" font-family='"Liberation Serif", serif' font-size="16" fill="#111" stroke="#111" stroke-width="0.15" textLength="13.6" lengthAdjust="spacingAndGlyphs">15</text>
<text x="166.6" y="358.7" text-anchor="middle" font-family='"Liberation Serif", serif' font-size="16" fill="#111" stroke="#111" stroke-width="0.15" textLength="13.6" lengthAdjust="spacingAndGlyphs">20</text>
<text x="198.4" y="358.7" text-anchor="middle" font-family='"Liberation Serif", serif' font-size="16" fill="#111" stroke="#111" stroke-width="0.15" textLength="13.6" lengthAdjust="spacingAndGlyphs">25</text>
<text x="230.2" y="358.7" text-anchor="middle" font-family='"Liberation Serif", serif' font-size="16" fill="#111" stroke="#111" stroke-width="0.15" textLength="13.6" lengthAdjust="spacingAndGlyphs">30</text>
<path d="M293.6 205.3V342.9H486.0" fill="none" stroke="#888" stroke-width="1.5"/>
<path d="M290.1 330.9H293.6M291.4 319.5H293.6M290.1 308.1H293.6M291.4 296.6H293.6M290.1 285.2H293.6M291.4 273.8H293.6M290.1 262.4H293.6M291.4 251.0H293.6M290.1 239.5H293.6M291.4 228.1H293.6M290.1 216.7H293.6M291.4 205.9H293.6M293.6 342.9V345.9M309.6 342.9V344.9M325.7 342.9V345.9M341.7 342.9V344.9M357.7 342.9V345.9M373.8 342.9V344.9M389.8 342.9V345.9M405.8 342.9V344.9M421.9 342.9V345.9M437.9 342.9V344.9M453.9 342.9V345.9M470.0 342.9V344.9M486.0 342.9V345.9" fill="none" stroke="#888" stroke-width="1.3"/>
<text x="290.0" y="335.7" text-anchor="end" font-family='"Liberation Serif", serif' font-size="16" fill="#111" stroke="#111" stroke-width="0.15" textLength="6.8" lengthAdjust="spacingAndGlyphs">0</text>
<text x="290.0" y="312.9" text-anchor="end" font-family='"Liberation Serif", serif' font-size="16" fill="#111" stroke="#111" stroke-width="0.15" textLength="13.6" lengthAdjust="spacingAndGlyphs">1k</text>
<text x="290.0" y="290.0" text-anchor="end" font-family='"Liberation Serif", serif' font-size="16" fill="#111" stroke="#111" stroke-width="0.15" textLength="13.6" lengthAdjust="spacingAndGlyphs">2k</text>
<text x="290.0" y="267.2" text-anchor="end" font-family='"Liberation Serif", serif' font-size="16" fill="#111" stroke="#111" stroke-width="0.15" textLength="13.6" lengthAdjust="spacingAndGlyphs">3k</text>
<text x="290.0" y="244.3" text-anchor="end" font-family='"Liberation Serif", serif' font-size="16" fill="#111" stroke="#111" stroke-width="0.15" textLength="13.6" lengthAdjust="spacingAndGlyphs">4k</text>
<text x="290.0" y="221.5" text-anchor="end" font-family='"Liberation Serif", serif' font-size="16" fill="#111" stroke="#111" stroke-width="0.15" textLength="13.6" lengthAdjust="spacingAndGlyphs">5k</text>
<text x="294.3" y="358.2" text-anchor="middle" font-family='"Liberation Serif", serif' font-size="16" fill="#111" stroke="#111" stroke-width="0.15" textLength="6.8" lengthAdjust="spacingAndGlyphs">0</text>
<text x="326.4" y="358.2" text-anchor="middle" font-family='"Liberation Serif", serif' font-size="16" fill="#111" stroke="#111" stroke-width="0.15" textLength="6.8" lengthAdjust="spacingAndGlyphs">5</text>
<text x="358.4" y="358.2" text-anchor="middle" font-family='"Liberation Serif", serif' font-size="16" fill="#111" stroke="#111" stroke-width="0.15" textLength="13.6" lengthAdjust="spacingAndGlyphs">10</text>
<text x="390.5" y="358.2" text-anchor="middle" font-family='"Liberation Serif", serif' font-size="16" fill="#111" stroke="#111" stroke-width="0.15" textLength="13.6" lengthAdjust="spacingAndGlyphs">15</text>
<text x="422.6" y="358.2" text-anchor="middle" font-family='"Liberation Serif", serif' font-size="16" fill="#111" stroke="#111" stroke-width="0.15" textLength="13.6" lengthAdjust="spacingAndGlyphs">20</text>
<text x="454.6" y="358.2" text-anchor="middle" font-family='"Liberation Serif", serif' font-size="16" fill="#111" stroke="#111" stroke-width="0.15" textLength="13.6" lengthAdjust="spacingAndGlyphs">25</text>
<text x="486.7" y="358.2" text-anchor="middle" font-family='"Liberation Serif", serif' font-size="16" fill="#111" stroke="#111" stroke-width="0.15" textLength="13.6" lengthAdjust="spacingAndGlyphs">30</text>
<path d="M555.8 212.1V344.4H741.6" fill="none" stroke="#000" stroke-width="1.3"/>
<path d="M552.3 344.4H555.8M553.6 327.9H555.8M552.3 311.4H555.8M553.6 294.9H555.8M552.3 278.4H555.8M553.6 261.9H555.8M552.3 245.4H555.8M553.6 228.9H555.8M552.3 212.4H555.8M555.8 344.4V347.4M571.3 344.4V346.4M586.8 344.4V347.4M602.2 344.4V346.4M617.7 344.4V347.4M633.2 344.4V346.4M648.7 344.4V347.4M664.2 344.4V346.4M679.7 344.4V347.4M695.1 344.4V346.4M710.6 344.4V347.4M726.1 344.4V346.4M741.6 344.4V347.4" fill="none" stroke="#000" stroke-width="1.3"/>
<text x="551.0" y="349.2" text-anchor="end" font-family='"Liberation Serif", serif' font-size="16" fill="#111" stroke="#111" stroke-width="0.15" textLength="6.8" lengthAdjust="spacingAndGlyphs">0</text>
<text x="551.0" y="316.2" text-anchor="end" font-family='"Liberation Serif", serif' font-size="16" fill="#111" stroke="#111" stroke-width="0.15" textLength="13.6" lengthAdjust="spacingAndGlyphs">1k</text>
<text x="551.0" y="283.2" text-anchor="end" font-family='"Liberation Serif", serif' font-size="16" fill="#111" stroke="#111" stroke-width="0.15" textLength="13.6" lengthAdjust="spacingAndGlyphs">2k</text>
<text x="551.0" y="250.2" text-anchor="end" font-family='"Liberation Serif", serif' font-size="16" fill="#111" stroke="#111" stroke-width="0.15" textLength="13.6" lengthAdjust="spacingAndGlyphs">3k</text>
<text x="551.0" y="217.2" text-anchor="end" font-family='"Liberation Serif", serif' font-size="16" fill="#111" stroke="#111" stroke-width="0.15" textLength="13.6" lengthAdjust="spacingAndGlyphs">4k</text>
<text x="556.5" y="359.7" text-anchor="middle" font-family='"Liberation Serif", serif' font-size="16" fill="#111" stroke="#111" stroke-width="0.15" textLength="6.8" lengthAdjust="spacingAndGlyphs">0</text>
<text x="587.5" y="359.7" text-anchor="middle" font-family='"Liberation Serif", serif' font-size="16" fill="#111" stroke="#111" stroke-width="0.15" textLength="6.8" lengthAdjust="spacingAndGlyphs">5</text>
<text x="618.4" y="359.7" text-anchor="middle" font-family='"Liberation Serif", serif' font-size="16" fill="#111" stroke="#111" stroke-width="0.15" textLength="13.6" lengthAdjust="spacingAndGlyphs">10</text>
<text x="649.4" y="359.7" text-anchor="middle" font-family='"Liberation Serif", serif' font-size="16" fill="#111" stroke="#111" stroke-width="0.15" textLength="13.6" lengthAdjust="spacingAndGlyphs">15</text>
<text x="680.4" y="359.7" text-anchor="middle" font-family='"Liberation Serif", serif' font-size="16" fill="#111" stroke="#111" stroke-width="0.15" textLength="13.6" lengthAdjust="spacingAndGlyphs">20</text>
<text x="711.3" y="359.7" text-anchor="middle" font-family='"Liberation Serif", serif' font-size="16" fill="#111" stroke="#111" stroke-width="0.15" textLength="13.6" lengthAdjust="spacingAndGlyphs">25</text>
<text x="742.3" y="359.7" text-anchor="middle" font-family='"Liberation Serif", serif' font-size="16" fill="#111" stroke="#111" stroke-width="0.15" textLength="13.6" lengthAdjust="spacingAndGlyphs">30</text>
<text transform="translate(12.0,163.1) rotate(-90)" font-family='"Liberation Sans", sans-serif' font-weight="bold" font-size="17" textLength="160.7" lengthAdjust="spacingAndGlyphs">Fluorescence intensity</text>
<text transform="translate(267.6,163.1) rotate(-90)" font-family='"Liberation Sans", sans-serif' font-weight="bold" font-size="17" textLength="160.7" lengthAdjust="spacingAndGlyphs">Fluorescence intensity</text>
<text transform="translate(528.2,163.0) rotate(-90)" font-family='"Liberation Sans", sans-serif' font-weight="bold" font-size="17" textLength="158.4" lengthAdjust="spacingAndGlyphs">Fluorescence intensity</text>
<text transform="translate(12.0,355.6) rotate(-90)" font-family='"Liberation Sans", sans-serif' font-weight="bold" font-size="17" textLength="155.8" lengthAdjust="spacingAndGlyphs">Fluorescence intensity</text>
<text transform="translate(267.6,355.6) rotate(-90)" font-family='"Liberation Sans", sans-serif' font-weight="bold" font-size="17" textLength="157.7" lengthAdjust="spacingAndGlyphs">Fluorescence intensity</text>
<text transform="translate(528.9,357.0) rotate(-90)" font-family='"Liberation Sans", sans-serif' font-weight="bold" font-size="17" textLength="156.0" lengthAdjust="spacingAndGlyphs">Fluorescence intensity</text>
<text x="97.0" y="181.4" font-family='"Liberation Sans", sans-serif' font-weight="bold" font-size="17.6" textLength="79.6" lengthAdjust="spacingAndGlyphs">Time (min)</text>
<text x="347.0" y="181.4" font-family='"Liberation Sans", sans-serif' font-weight="bold" font-size="17.6" textLength="78.2" lengthAdjust="spacingAndGlyphs">Time (min)</text>
<text x="610.5" y="181.4" font-family='"Liberation Sans", sans-serif' font-weight="bold" font-size="17.6" textLength="76.6" lengthAdjust="spacingAndGlyphs">Time (min)</text>
<text x="96.2" y="375.7" font-family='"Liberation Sans", sans-serif' font-weight="bold" font-size="17.6" textLength="76.9" lengthAdjust="spacingAndGlyphs">Time (min)</text>
<text x="356.6" y="376.2" font-family='"Liberation Sans", sans-serif' font-weight="bold" font-size="17.6" textLength="76.8" lengthAdjust="spacingAndGlyphs">Time (min)</text>
<text x="610.5" y="375.2" font-family='"Liberation Sans", sans-serif' font-weight="bold" font-size="17.6" textLength="76.6" lengthAdjust="spacingAndGlyphs">Time (min)</text>
<text x="45.5" y="12.8" font-family='"Liberation Serif", serif' font-weight="bold" font-size="21">a</text>
<text x="298.2" y="15.5" font-family='"Liberation Serif", serif' font-weight="bold" font-size="21">b</text>
<text x="562.3" y="16.9" font-family='"Liberation Serif", serif' font-weight="bold" font-size="21">c</text>
<text x="43.5" y="212.8" font-family='"Liberation Serif", serif' font-weight="bold" font-size="21">d</text>
<text x="299.2" y="212.8" font-family='"Liberation Serif", serif' font-weight="bold" font-size="20">e</text>
<text x="559.8" y="219.7" font-family='"Liberation Serif", serif' font-weight="bold" font-size="21">f</text>
</svg>
</body></html>
